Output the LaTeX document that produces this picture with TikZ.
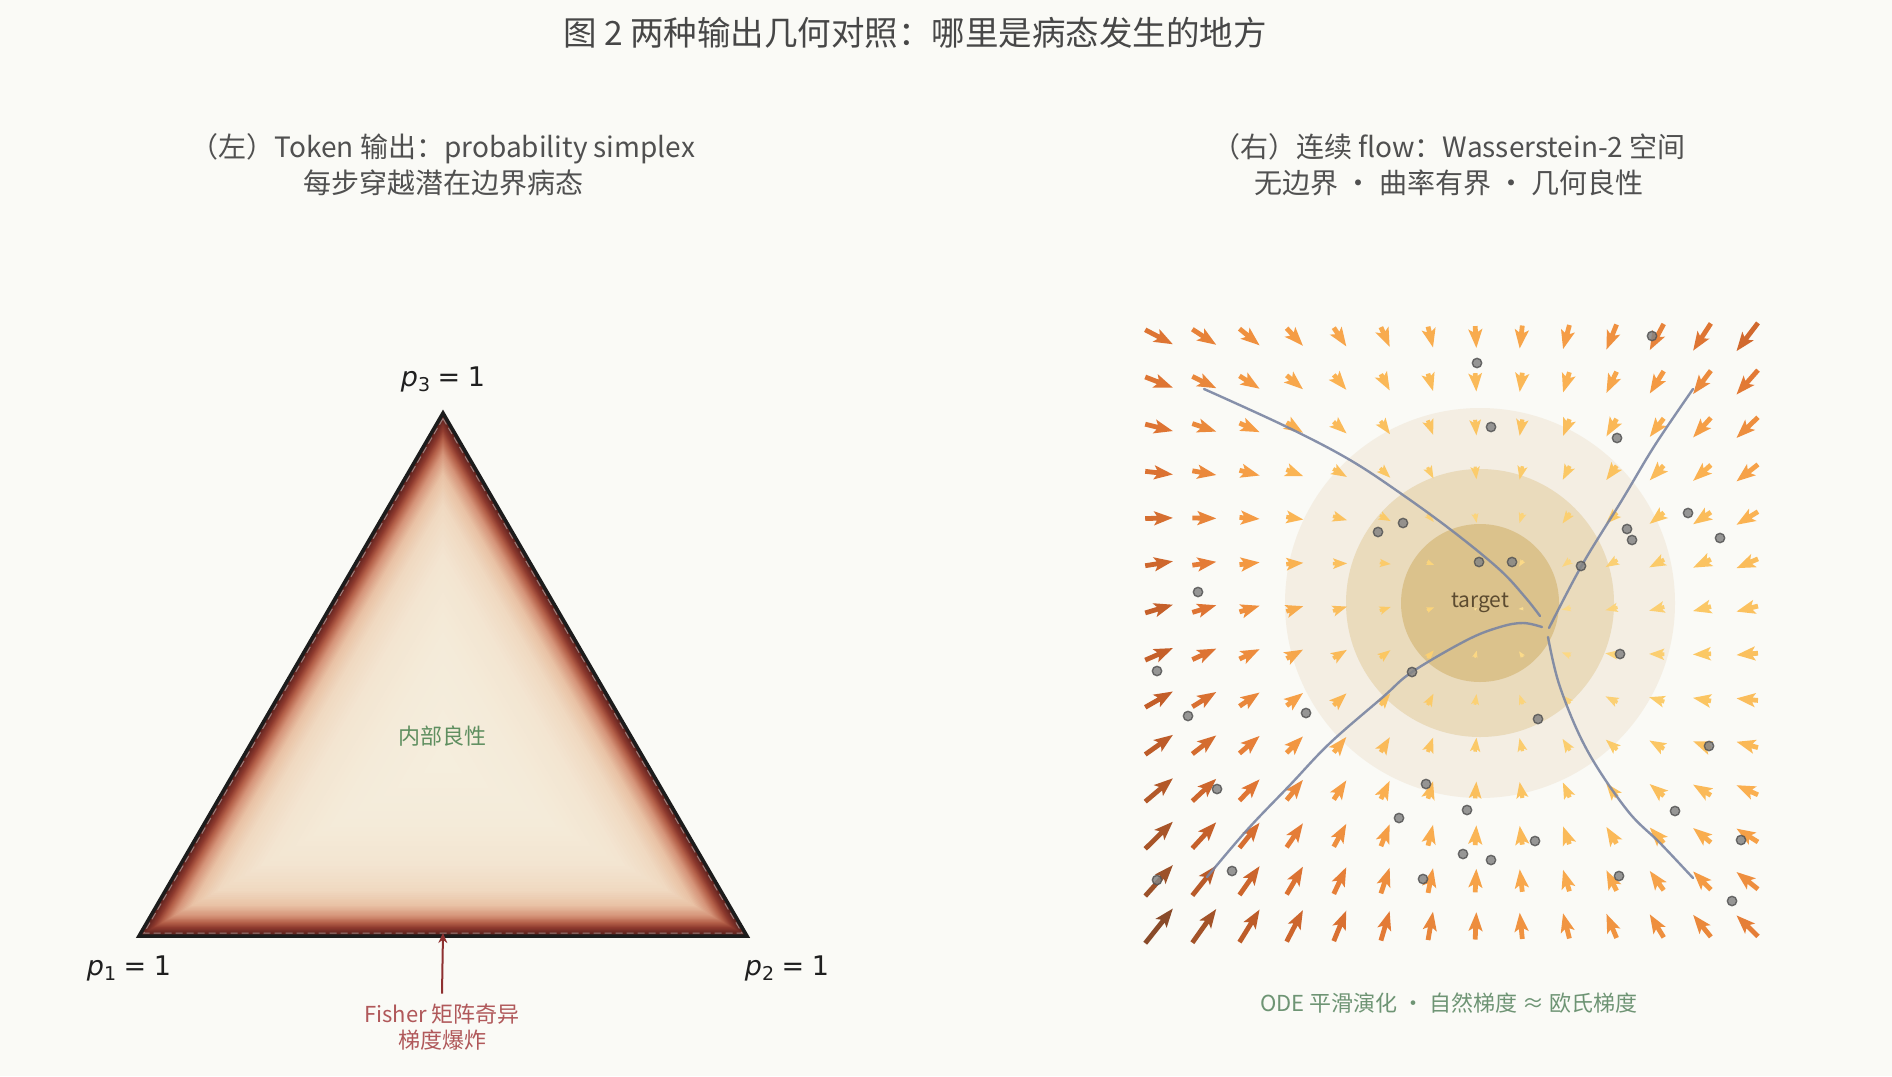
\documentclass[tikz,border=0pt]{standalone}
\usepackage{fontspec}
\setmainfont{Noto Sans CJK SC}
\newfontfamily\dejavu{DejaVu Sans}
\usetikzlibrary{arrows.meta}
\definecolor{bgc}{HTML}{FAFAF6}
\definecolor{titc}{HTML}{474747}
\definecolor{subc}{HTML}{505050}
\definecolor{tri0}{HTML}{5A231E}
\definecolor{tri1}{HTML}{6E2A24}
\definecolor{tri2}{HTML}{8E3A2E}
\definecolor{tri3}{HTML}{B5614A}
\definecolor{tri4}{HTML}{D6957A}
\definecolor{tri5}{HTML}{E9C2A5}
\definecolor{tri6}{HTML}{F0D9C1}
\definecolor{tri7}{HTML}{F3E5D1}
\definecolor{tri8}{HTML}{F4EBD9}
\definecolor{tri9}{HTML}{F5EEDD}
\definecolor{triline}{HTML}{1C1C1C}
\definecolor{innerg}{HTML}{5F8F60}
\definecolor{fishc}{HTML}{B0585A}
\definecolor{fisharr}{HTML}{8E3030}
\definecolor{capc}{HTML}{6E9474}
\definecolor{ring1}{HTML}{F4EEE3}
\definecolor{ring2}{HTML}{EADBBC}
\definecolor{ring3}{HTML}{DBC28C}
\definecolor{trajc}{HTML}{7A85A2}
\definecolor{dotf}{HTML}{858585}
\definecolor{dotd}{HTML}{555555}
\definecolor{tgtc}{HTML}{5C4B30}
\definecolor{ac0}{HTML}{FDE49A}
\definecolor{ac1}{HTML}{FCC860}
\definecolor{ac2}{HTML}{FBB24C}
\definecolor{ac3}{HTML}{F4953A}
\definecolor{ac4}{HTML}{E0702A}
\definecolor{ac5}{HTML}{C0561F}
\definecolor{ac6}{HTML}{7C3F1E}
\newcommand\mylab[1]{{\dejavu\itshape p}{\dejavu\fontsize{19}{19}\selectfont\raisebox{-5pt}{#1}}\hspace{0.28em}{\dejavu =}\hspace{0.28em}{\dejavu 1}}
\tikzset{
  tt/.style={inner sep=0pt, text=titc, font=\fontsize{33.5}{40}\selectfont},
  subt/.style={inner sep=0pt, align=center, text=subc, font=\fontsize{28}{36}\selectfont},
  vlab/.style={inner sep=0pt, text=black!88, font=\fontsize{27}{30}\selectfont},
  smalltxt/.style={inner sep=0pt, font=\fontsize{22}{26}\selectfont},
  trajline/.style={draw=trajc, line width=2.4pt, opacity=0.9, line cap=round},
  dotstyle/.style={fill=dotf, draw=dotd, line width=1.4pt, fill opacity=0.85, draw opacity=0.85},
  fisharrow/.style={draw=fisharr, line width=2pt, -{Stealth[length=10pt,width=9pt]}}
}
\begin{document}
\begin{tikzpicture}[x=1pt,y=-1pt]
\useasboundingbox (0,0) rectangle (1892,1076);
\fill[bgc] (0,0) rectangle (1892,1076);

% ---------- title ----------
\node[tt] (title) at (915,33) {图 2 两种输出几何对照：哪里是病态发生的地方};
\node[subt] (subL) at (443,165) {（左）Token 输出：probability simplex\\每步穿越潜在边界病态};
\node[subt] (subR) at (1449,165) {（右）连续 flow：Wasserstein-2 空间\\无边界 ・ 曲率有界 ・ 几何良性};

% ---------- simplex ----------
\coordinate (T) at (443,413);
\coordinate (Lv) at (139,936);
\coordinate (Rv) at (747,936);
\foreach \da/\db/\ca/\cb in {0/4/tri0/tri1,4/8/tri1/tri2,8/13/tri2/tri3,13/20/tri3/tri4,20/30/tri4/tri5,30/45/tri5/tri6,45/70/tri6/tri7,70/110/tri7/tri8,110/172/tri8/tri9}{
  \foreach \k in {0,...,7}{
    \pgfmathsetmacro\dd{\da+(\db-\da)*\k/8}
    \pgfmathsetmacro\vp{100*\k/8}
    \pgfmathsetmacro\ts{1-\dd/175.5}
    \begin{scope}[shift={(443,761.7)}, scale=\ts]
      \fill[\cb!\vp!\ca] (0,-348.7) -- (-304,174.3) -- (304,174.3) -- cycle;
    \end{scope}
  }
}
\begin{scope}[shift={(443,761.7)}, scale=0.984]
  \draw[gray!55, line width=1pt, opacity=0.6, dash pattern=on 7pt off 4pt] (0,-348.7) -- (-304,174.3) -- (304,174.3) -- cycle;
\end{scope}
\draw[triline, line width=3.5pt, line join=miter] (T) -- (Lv) -- (Rv) -- cycle;

\node[vlab] (p3) at (443,379) {\mylab{3}};
\node[vlab] (p1) at (129,968) {\mylab{1}};
\node[vlab] (p2) at (787,968) {\mylab{2}};
\node[smalltxt, text=innerg] (inner) at (442,736) {内部良性};

\coordinate (bm) at (443,933);
\node[smalltxt, text=fishc, align=center] (fisher) at (442,1027) {Fisher 矩阵奇异\\梯度爆炸};
\draw[fisharrow] ([yshift=10pt]fisher.north) -- (bm);

% ---------- flow panel ----------
\coordinate (tc) at (1480,603);
\fill[ring1] (tc) circle (195pt);
\fill[ring2] (tc) circle (134pt);
\fill[ring3] (tc) circle (79pt);

\foreach \i in {0,...,13}{
  \foreach \j in {0,...,13}{
    \pgfmathsetmacro\ax{1159+45.25*\i}
    \pgfmathsetmacro\ay{337+45.3*\j}
    \pgfmathsetmacro\vdx{(\ax-1490)/300}
    \pgfmathsetmacro\vdy{(\ay-603)/300}
    \pgfmathsetmacro\vfx{-(\vdx)}
    \pgfmathsetmacro\vfy{-(\vdy)+0.28*(\vdx)}
    \pgfmathsetmacro\vm{sqrt((\vfx)*(\vfx)+(\vfy)*(\vfy))}
    \pgfmathsetmacro\vc{\vm-0.3*(\vdx)*max(0,1-abs(\vdy))}
    \pgfmathsetmacro\vth{atan2(-(\vfy),\vfx)}
    \pgfmathsetmacro\vlen{25*\vm}
    \pgfmathsetmacro\vs{min(1,pow(\vlen/19,0.7))}
    \pgfmathsetmacro\lf{max(\vlen,19)}
    \pgfmathsetmacro\hL{\lf/2}
    \pgfmathsetmacro\ha{\hL-16}
    \pgfmathsetmacro\hb{\hL-19}
    \ifdim\vc pt<0.5pt
      \pgfmathsetmacro\vp{max(0,100*\vc/0.5)}\colorlet{arc}{ac1!\vp!ac0}%
    \else\ifdim\vc pt<0.8pt
      \pgfmathsetmacro\vp{100*(\vc-0.5)/0.3}\colorlet{arc}{ac2!\vp!ac1}%
    \else\ifdim\vc pt<1.0pt
      \pgfmathsetmacro\vp{100*(\vc-0.8)/0.2}\colorlet{arc}{ac3!\vp!ac2}%
    \else\ifdim\vc pt<1.25pt
      \pgfmathsetmacro\vp{100*(\vc-1.0)/0.25}\colorlet{arc}{ac4!\vp!ac3}%
    \else\ifdim\vc pt<1.5pt
      \pgfmathsetmacro\vp{100*(\vc-1.25)/0.25}\colorlet{arc}{ac5!\vp!ac4}%
    \else
      \pgfmathsetmacro\vp{min(100,100*(\vc-1.5)/0.3)}\colorlet{arc}{ac6!\vp!ac5}%
    \fi\fi\fi\fi\fi
    \begin{scope}[shift={(\ax,\ay)}, rotate=\vth, scale=\vs]
      \fill[arc, opacity=0.95] (-\hL,-2.4) -- (\ha,-2.4) -- (\hb,-7.2) -- (\hL,0) -- (\hb,7.2) -- (\ha,2.4) -- (-\hL,2.4) -- cycle;
    \end{scope}
  }
}

% trajectories
\draw[trajline] plot[smooth, tension=0.6] coordinates {(1204,389) (1287,427) (1350,460) (1403,495) (1455,533) (1500,570) (1525,597) (1540,616)};
\draw[trajline] plot[smooth, tension=0.6] coordinates {(1693,389) (1655,445) (1622,500) (1582,565) (1549,628)};
\draw[trajline] plot[smooth, tension=0.6] coordinates {(1207,877) (1247,830) (1290,785) (1330,743) (1383,697) (1412,672) (1467,640) (1500,627) (1523,623) (1542,627)};
\draw[trajline] plot[smooth, tension=0.6] coordinates {(1548,637) (1560,687) (1587,750) (1627,810) (1660,843) (1693,878)};

% samples
\foreach \px/\py in {1477/363,1491/427,1617/438,1652/336,1378/532,1403/523,1479/562,1512/562,1581/566,1627/529,1632/540,1688/513,1720/538,1198/592,1157/671,1412/672,1620/654,1188/716,1306/713,1538/719,1709/746,1217/789,1426/784,1467/810,1399/818,1675/811,1741/840,1535/841,1463/854,1491/860,1232/871,1619/876,1423/879,1157/880,1732/901}{
  \filldraw[dotstyle] (\px,\py) circle (4.7pt);
}

\node[inner sep=0pt, text=tgtc, font=\fontsize{21}{24}\selectfont] (target) at (tc) {target};
\node[smalltxt, text=capc] (caption) at (1449,1003) {ODE 平滑演化 ・ 自然梯度 ≈ 欧氏梯度};
\end{tikzpicture}
\end{document}
